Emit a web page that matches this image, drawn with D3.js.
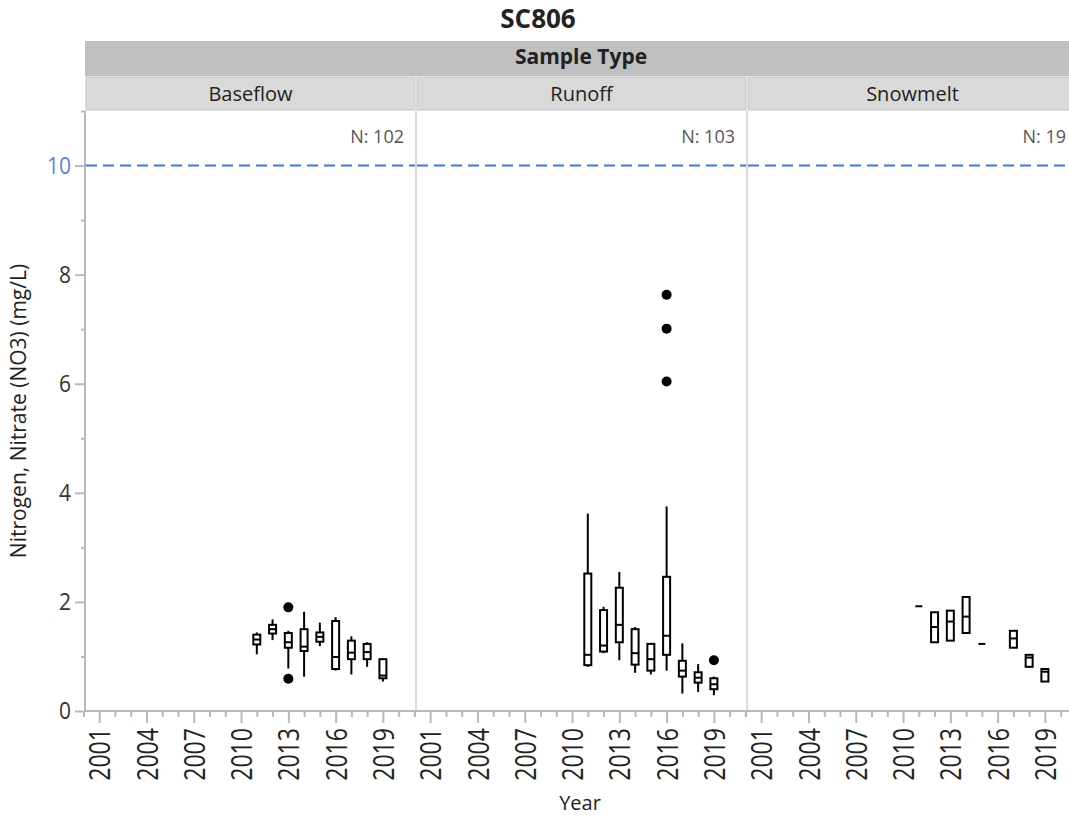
<!DOCTYPE html>
<html>
<head>
<meta charset="utf-8">
<script src="https://cdn.jsdelivr.net/npm/d3@7"></script>
<style>
body { margin: 0; background: #fff; }
text { font-family: "Open Sans", "Noto Sans", sans-serif; fill: #222; }
</style>
</head>
<body>
<div id="chart"></div>
<script>
// Nitrate box plots by year, one panel per sample type

const sampleTypes = ["Baseflow", "Runoff", "Snowmelt"];
const sampleCounts = [102, 103, 19];
const yearTicks = [2001, 2004, 2007, 2010, 2013, 2016, 2019];
const valueTicks = [0, 2, 4, 6, 8, 10];
const refLevel = 10;

// [year, whisker low, q1, median, q3, whisker high]
const baseflowBoxes = [
  [2011, 1.04, 1.22, 1.31, 1.40, 1.44],
  [2012, 1.30, 1.42, 1.50, 1.58, 1.68],
  [2013, 0.78, 1.16, 1.26, 1.43, 1.47],
  [2014, 0.63, 1.10, 1.18, 1.50, 1.82],
  [2015, 1.19, 1.27, 1.36, 1.44, 1.62],
  [2016, 0.74, 0.77, 0.99, 1.65, 1.72],
  [2017, 0.67, 0.95, 1.07, 1.29, 1.37],
  [2018, 0.81, 0.95, 1.08, 1.23, 1.26],
  [2019, 0.54, 0.60, 0.65, 0.95, 0.95]];

const runoffBoxes = [
  [2011, 0.81, 0.84, 1.03, 2.52, 3.62],
  [2012, 1.06, 1.09, 1.20, 1.85, 1.91],
  [2013, 0.93, 1.26, 1.58, 2.26, 2.55],
  [2014, 0.70, 0.85, 1.06, 1.50, 1.54],
  [2015, 0.67, 0.74, 0.95, 1.23, 1.25],
  [2016, 0.74, 1.03, 1.38, 2.46, 3.75],
  [2017, 0.32, 0.63, 0.74, 0.92, 1.24],
  [2018, 0.35, 0.52, 0.61, 0.71, 0.86],
  [2019, 0.29, 0.40, 0.49, 0.60, 0.63]];

const snowmeltBoxes = [
  [2011, 1.92, 1.92, 1.92, 1.92, 1.92],
  [2012, 1.26, 1.26, 1.54, 1.81, 1.81],
  [2013, 1.29, 1.29, 1.64, 1.84, 1.84],
  [2014, 1.43, 1.43, 1.73, 2.09, 2.09],
  [2015, 1.23, 1.23, 1.23, 1.23, 1.23],
  [2017, 1.16, 1.16, 1.33, 1.47, 1.47],
  [2018, 0.81, 0.81, 0.98, 1.03, 1.03],
  [2019, 0.54, 0.54, 0.72, 0.77, 0.77]];

// [year, value]
const baseflowOutliers = [[2013, 1.90], [2013, 0.59]];
const runoffOutliers = [[2016, 6.04], [2016, 7.01], [2016, 7.63], [2019, 0.93]];
const snowmeltOutliers = [];

const panelBoxes = [baseflowBoxes, runoffBoxes, snowmeltBoxes];
const panelOutliers = [baseflowOutliers, runoffOutliers, snowmeltOutliers];

// Layout
const W = 1069, H = 818;
const pL = 85, pT = 111, pB = 711, panelW = 331;
const headTop = 41, headMid = 76;
const gridGray = "#b8b8b8";

const svg = d3.select("#chart").
append("svg").
attr("width", W).
attr("height", H);

const yScale = d3.scaleLinear().domain([0, 11]).range([pB, pT]);

// Title and header strips
svg.append("text").
attr("x", 538).
attr("y", 28).
attr("text-anchor", "middle").
attr("font-size", 26).
attr("font-weight", "bold").
text("SC806");

svg.append("rect").
attr("x", pL).
attr("y", headTop).
attr("width", W - pL).
attr("height", headMid - headTop).
attr("fill", "#c0c0c0");

svg.append("text").
attr("x", (pL + W) / 2 + 4).
attr("y", 64).
attr("text-anchor", "middle").
attr("font-size", 21).
attr("font-weight", "bold").
text("Sample Type");

sampleTypes.forEach((name, i) => {
  const x0 = pL + i * panelW;
  const x = d3.scaleLinear().domain([2000.1, 2021.1]).range([x0, x0 + panelW]);
  const g = svg.append("g");

  g.append("rect").
  attr("x", x0 + 1).
  attr("y", headMid + 1).
  attr("width", panelW - 2).
  attr("height", pT - headMid - 2).
  attr("fill", "#d9d9d9").
  attr("stroke", "#c4c4c4");

  g.append("text").
  attr("x", x0 + panelW / 2).
  attr("y", 101).
  attr("text-anchor", "middle").
  attr("font-size", 20).
  text(name);

  if (i > 0) {
    g.append("line").
    attr("x1", x0).attr("x2", x0).
    attr("y1", pT).attr("y2", pB).
    attr("stroke", "#dadada").
    attr("stroke-width", 2);
  }

  g.append("text").
  attr("x", x0 + panelW - 12).
  attr("y", 143).
  attr("text-anchor", "end").
  attr("font-size", 18).
  style("fill", "#555").
  text(`N: ${sampleCounts[i]}`);

  // Reference level
  g.append("line").
  attr("x1", x0 + 1).attr("x2", x0 + panelW).
  attr("y1", yScale(refLevel)).attr("y2", yScale(refLevel)).
  attr("stroke", "#3b7ae0").
  attr("stroke-width", 2).
  attr("stroke-dasharray", "11 6");

  // Boxes
  const bw = 7;
  const boxes = panelBoxes[i];

  g.selectAll(".whisker").
  data(boxes.filter(d => d[5] > d[1])).
  enter().
  append("line").
  attr("x1", d => x(d[0])).attr("x2", d => x(d[0])).
  attr("y1", d => yScale(d[1])).attr("y2", d => yScale(d[5])).
  attr("stroke", "#000").
  attr("stroke-width", 2);

  g.selectAll(".box").
  data(boxes.filter(d => d[4] > d[2])).
  enter().
  append("rect").
  attr("x", d => x(d[0]) - bw / 2).
  attr("y", d => yScale(d[4])).
  attr("width", bw).
  attr("height", d => yScale(d[2]) - yScale(d[4])).
  attr("fill", "#fff").
  attr("stroke", "#000").
  attr("stroke-width", 2);

  g.selectAll(".median").
  data(boxes).
  enter().
  append("line").
  attr("x1", d => x(d[0]) - bw / 2).attr("x2", d => x(d[0]) + bw / 2).
  attr("y1", d => yScale(d[3])).attr("y2", d => yScale(d[3])).
  attr("stroke", "#000").
  attr("stroke-width", 2);

  g.selectAll(".outlier").
  data(panelOutliers[i]).
  enter().
  append("circle").
  attr("cx", d => x(d[0])).
  attr("cy", d => yScale(d[1])).
  attr("r", 5).
  attr("fill", "#000");

  // X axis: minor yearly ticks and labelled major ticks
  const minor = d3.range(2000, 2022).filter(v => !yearTicks.includes(v));
  const minorAxis = g.append("g").
  attr("transform", `translate(0 ${pB})`).
  call(d3.axisBottom(x).tickValues(minor).tickSize(6).tickSizeOuter(0).tickFormat(""));
  minorAxis.select(".domain").remove();

  const majorAxis = g.append("g").
  attr("transform", `translate(0 ${pB})`).
  call(d3.axisBottom(x).tickValues(yearTicks).tickSize(12).tickSizeOuter(0).tickFormat(d3.format("d")));
  majorAxis.select(".domain").remove();

  g.selectAll(".tick line").
  attr("stroke", gridGray).
  attr("stroke-width", 2);

  majorAxis.selectAll("text").
  attr("font-size", 21).
  attr("font-family", "Open Sans, sans-serif").
  attr("text-anchor", "end").
  attr("x", 0).
  attr("y", 0).
  attr("dy", "0.36em").
  attr("transform", "translate(0 17) rotate(-90) scale(1.1 1.4)").
  style("fill", "#222");
});

// Frame
svg.append("line").
attr("x1", pL).attr("x2", pL).
attr("y1", pT).attr("y2", pB).
attr("stroke", gridGray).
attr("stroke-width", 2);

svg.append("line").
attr("x1", pL - 1).attr("x2", W).
attr("y1", pB).attr("y2", pB).
attr("stroke", gridGray).
attr("stroke-width", 2);

// Y axis
const yMinor = svg.append("g").
attr("transform", `translate(${pL} 0)`).
call(d3.axisLeft(yScale).tickValues([1, 3, 5, 7, 9, 11]).tickSize(4).tickSizeOuter(0).tickFormat(""));
yMinor.select(".domain").remove();

const yAxis = svg.append("g").
attr("transform", `translate(${pL} 0)`).
call(d3.axisLeft(yScale).tickValues(valueTicks).tickSize(10).tickSizeOuter(0).tickPadding(4));
yAxis.select(".domain").remove();

svg.selectAll(".tick line").
attr("stroke", gridGray).
attr("stroke-width", 2);

yAxis.selectAll("text").
attr("font-size", 21).
attr("font-family", "Open Sans, sans-serif").
attr("transform", "scale(1 1.12)").
style("fill", d => d === refLevel ? "#5b82e8" : "#333");

// Axis titles
svg.append("text").
attr("transform", `translate(26 ${(pT + pB) / 2}) rotate(-90)`).
attr("text-anchor", "middle").
attr("font-size", 21).
text("Nitrogen, Nitrate (NO3) (mg/L)");

svg.append("text").
attr("x", 580).
attr("y", 810).
attr("text-anchor", "middle").
attr("font-size", 20).
text("Year");
</script>
</body>
</html>
